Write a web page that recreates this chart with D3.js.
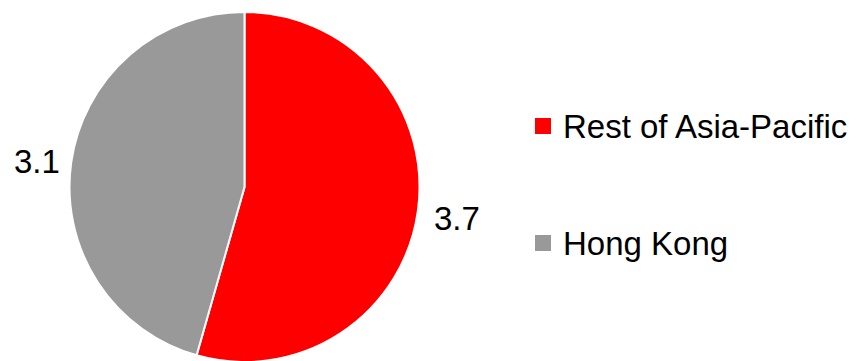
<!DOCTYPE html>
<meta charset="utf-8">
<script src="https://d3js.org/d3.v7.min.js"></script>
<style>
  body { margin: 0; background: #fff; }
</style>
<body>
<script>
  // chart data
  var categories = ["Rest of Asia-Pacific", "Hong Kong"];
  var values = [3.7, 3.1];
  var colors = ["#ff0000", "#999999"];

  var w = 856, h = 361;
  var cx = 244.5, cy = 187, r = 175;

  var svg = d3.select("body")
    .append("svg")
    .attr("width", w)
    .attr("height", h);

  var pie = d3.pie().sort(null)(values);
  var arc = d3.arc().innerRadius(0).outerRadius(r);

  var g = svg.append("g")
    .attr("transform", "translate(" + cx + "," + cy + ")");

  g.selectAll("path")
    .data(pie)
    .enter()
    .append("path")
    .attr("d", arc)
    .attr("fill", function (d, i) { return colors[i]; })
    .attr("stroke", "#fff")
    .attr("stroke-width", 2);

  // value labels outside the slices
  svg.selectAll(".val")
    .data(values)
    .enter()
    .append("text")
    .attr("class", "val")
    .text(function (d) { return d.toFixed(1); })
    .attr("x", function (d, i) { return i == 0 ? 434 : 14; })
    .attr("y", function (d, i) { return i == 0 ? 230 : 173; })
    .attr("font-family", "Liberation Sans, Arial, sans-serif")
    .attr("font-size", "33px")
    .attr("fill", "#000");

  // legend
  var legend = svg.selectAll(".leg")
    .data(categories)
    .enter()
    .append("g")
    .attr("class", "leg")
    .attr("transform", function (d, i) { return "translate(535," + (118 + i * 117) + ")"; });

  legend.append("rect")
    .attr("width", 16)
    .attr("height", 16)
    .attr("fill", function (d, i) { return colors[i]; });

  legend.append("text")
    .text(function (d) { return d; })
    .attr("x", 28)
    .attr("y", 20)
    .attr("font-family", "Liberation Sans, Arial, sans-serif")
    .attr("font-size", "33px")
    .attr("fill", "#000");
</script>
</body>
